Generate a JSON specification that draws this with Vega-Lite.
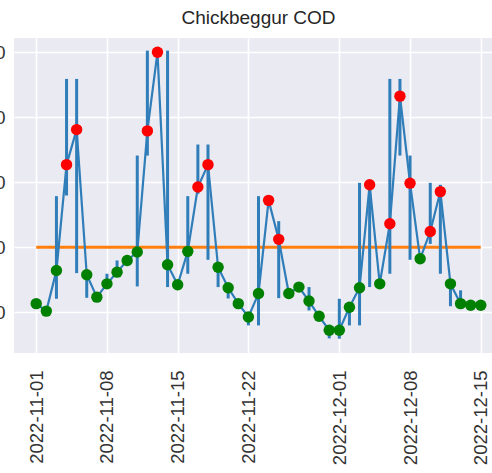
{
  "$schema": "https://vega.github.io/schema/vega-lite/v6.json",
  "autosize": "none",
  "padding": {"left": 14, "top": 38, "right": 0, "bottom": 120},
  "width": 489,
  "height": 315,
  "background": "white",
  "title": {"text": "Chickbeggur COD", "fontSize": 19, "font": "Liberation Sans", "fontWeight": "normal", "color": "#262626", "anchor": "middle", "offset": 10},
  "config": {
    "view": {"fill": "#EAEAF2", "stroke": null},
    "axis": {"grid": true, "gridColor": "white", "gridWidth": 1.6, "domain": false, "ticks": false, "labelFont": "Liberation Sans", "labelFontSize": 18.5, "labelColor": "#333333", "title": null}
  },
  "data": {"values": [
    {"date": "2022-11-01", "cod": 22.6, "lo": null, "hi": null},
    {"date": "2022-11-02", "cod": 20.3, "lo": null, "hi": null},
    {"date": "2022-11-03", "cod": 32.8, "lo": 24.1, "hi": 55.7},
    {"date": "2022-11-04", "cod": 65.4, "lo": 55.9, "hi": 91.8},
    {"date": "2022-11-05", "cod": 76.2, "lo": 32.0, "hi": 91.8},
    {"date": "2022-11-06", "cod": 31.5, "lo": 24.4, "hi": 32.0},
    {"date": "2022-11-07", "cod": 24.6, "lo": null, "hi": null},
    {"date": "2022-11-08", "cod": 28.7, "lo": 27.2, "hi": 31.8},
    {"date": "2022-11-09", "cod": 32.3, "lo": 30.8, "hi": 35.9},
    {"date": "2022-11-10", "cod": 35.9, "lo": null, "hi": null},
    {"date": "2022-11-11", "cod": 38.5, "lo": 27.9, "hi": 68.2},
    {"date": "2022-11-12", "cod": 75.8, "lo": 68.2, "hi": 100.5},
    {"date": "2022-11-13", "cod": 100.0, "lo": null, "hi": null},
    {"date": "2022-11-14", "cod": 34.6, "lo": 27.7, "hi": 100.5},
    {"date": "2022-11-15", "cod": 28.4, "lo": null, "hi": null},
    {"date": "2022-11-16", "cod": 38.7, "lo": 31.8, "hi": 55.7},
    {"date": "2022-11-17", "cod": 58.5, "lo": 56.4, "hi": 71.6},
    {"date": "2022-11-18", "cod": 65.4, "lo": 36.1, "hi": 71.6},
    {"date": "2022-11-19", "cod": 33.8, "lo": 27.7, "hi": 33.8},
    {"date": "2022-11-20", "cod": 27.5, "lo": 24.2, "hi": 27.6},
    {"date": "2022-11-21", "cod": 22.6, "lo": null, "hi": null},
    {"date": "2022-11-22", "cod": 18.5, "lo": 15.9, "hi": 19.6},
    {"date": "2022-11-23", "cod": 25.7, "lo": 15.9, "hi": 55.7},
    {"date": "2022-11-24", "cod": 54.4, "lo": null, "hi": null},
    {"date": "2022-11-25", "cod": 42.4, "lo": 24.3, "hi": 48.0},
    {"date": "2022-11-26", "cod": 25.7, "lo": null, "hi": null},
    {"date": "2022-11-27", "cod": 27.7, "lo": null, "hi": null},
    {"date": "2022-11-28", "cod": 23.4, "lo": 20.5, "hi": 27.7},
    {"date": "2022-11-29", "cod": 18.7, "lo": null, "hi": null},
    {"date": "2022-11-30", "cod": 14.4, "lo": 11.9, "hi": 15.0},
    {"date": "2022-12-01", "cod": 14.4, "lo": 11.8, "hi": 24.1},
    {"date": "2022-12-02", "cod": 21.5, "lo": 15.9, "hi": 23.1},
    {"date": "2022-12-03", "cod": 27.5, "lo": 15.9, "hi": 59.8},
    {"date": "2022-12-04", "cod": 59.2, "lo": 27.7, "hi": 59.2},
    {"date": "2022-12-05", "cod": 28.7, "lo": null, "hi": null},
    {"date": "2022-12-06", "cod": 47.2, "lo": 31.8, "hi": 91.8},
    {"date": "2022-12-07", "cod": 86.5, "lo": 68.2, "hi": 91.8},
    {"date": "2022-12-08", "cod": 59.7, "lo": 36.1, "hi": 68.2},
    {"date": "2022-12-09", "cod": 36.4, "lo": null, "hi": null},
    {"date": "2022-12-10", "cod": 44.8, "lo": 41.0, "hi": 59.8},
    {"date": "2022-12-11", "cod": 57.1, "lo": 31.8, "hi": 59.2},
    {"date": "2022-12-12", "cod": 28.7, "lo": 21.8, "hi": 28.7},
    {"date": "2022-12-13", "cod": 22.6, "lo": 21.5, "hi": 26.7},
    {"date": "2022-12-14", "cod": 22.1, "lo": null, "hi": null},
    {"date": "2022-12-15", "cod": 22.1, "lo": null, "hi": null}
  ]},
  "encoding": {
    "x": {"field": "date", "type": "temporal",
      "scale": {"type": "utc", "domain": [{"year": 2022, "month": 10, "date": 29, "hours": 19, "minutes": 12, "utc": true}, {"year": 2022, "month": 12, "date": 17, "hours": 4, "minutes": 48, "utc": true}]},
      "axis": {"labelAngle": 270, "labelPadding": 17, "labelExpr": "utcFormat(datum.value, '%Y-%m-%d')",
        "values": [
          {"year": 2022, "month": 11, "date": 1, "utc": true},
          {"year": 2022, "month": 11, "date": 8, "utc": true},
          {"year": 2022, "month": 11, "date": 15, "utc": true},
          {"year": 2022, "month": 11, "date": 22, "utc": true},
          {"year": 2022, "month": 12, "date": 1, "utc": true},
          {"year": 2022, "month": 12, "date": 8, "utc": true},
          {"year": 2022, "month": 12, "date": 15, "utc": true}
        ]}}
  },
  "layer": [
    {
      "mark": {"type": "line", "color": "#ff7f0e", "strokeWidth": 3},
      "encoding": {"y": {"datum": 40, "type": "quantitative", "scale": {"domain": [7.4, 104.4], "nice": false, "zero": false}, "axis": {"values": [20, 40, 60, 80, 100], "labelPadding": 9}}}
    },
    {
      "transform": [{"filter": "datum.lo != null"}],
      "mark": {"type": "rule", "color": "#2f7db9", "strokeWidth": 3},
      "encoding": {"y": {"field": "lo", "type": "quantitative"}, "y2": {"field": "hi"}}
    },
    {
      "mark": {"type": "line", "color": "#2f7db9", "strokeWidth": 2.2},
      "encoding": {"y": {"field": "cod", "type": "quantitative"}}
    },
    {
      "mark": {"type": "point", "filled": true, "opacity": 1, "size": 130},
      "encoding": {
        "y": {"field": "cod", "type": "quantitative"},
        "color": {"condition": {"test": "datum.cod > 40", "value": "#ff0000"}, "value": "#008000"}
      }
    }
  ]
}
